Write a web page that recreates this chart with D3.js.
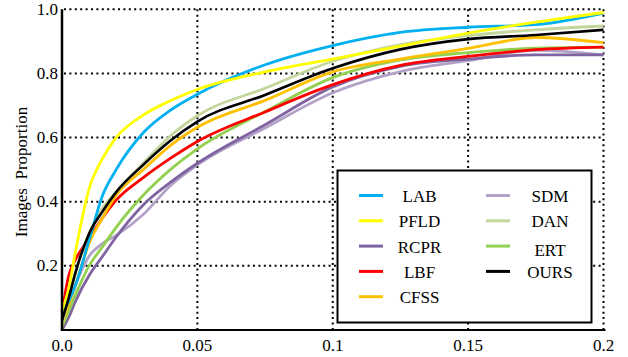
<!DOCTYPE html>
<html>
<head>
<meta charset="utf-8">
<script src="https://cdn.jsdelivr.net/npm/d3@7"></script>
</head>
<body style="margin:0">
<svg id="chart" width="628" height="357"></svg>
<script>
// normalized error thresholds (x) shared by every curve
const errs = [0, 0.0025, 0.005, 0.01, 0.015, 0.02, 0.03, 0.04, 0.05, 0.075, 0.1, 0.125, 0.15, 0.175, 0.2];

const lab  = [0.055, 0.09, 0.14, 0.28, 0.42, 0.50, 0.615, 0.685, 0.735, 0.827, 0.887, 0.928, 0.944, 0.952, 0.988];
const pfld = [0.06, 0.13, 0.245, 0.44, 0.535, 0.60, 0.67, 0.715, 0.75, 0.805, 0.845, 0.885, 0.926, 0.96, 0.99];
const rcpr = [0.0, 0.04, 0.09, 0.17, 0.23, 0.29, 0.39, 0.46, 0.52, 0.64, 0.758, 0.822, 0.845, 0.858, 0.858];
const lbf  = [0.055, 0.17, 0.22, 0.285, 0.35, 0.405, 0.475, 0.535, 0.588, 0.68, 0.765, 0.825, 0.853, 0.874, 0.882];
const cfss = [0.02, 0.08, 0.14, 0.27, 0.35, 0.42, 0.50, 0.575, 0.632, 0.716, 0.805, 0.845, 0.878, 0.912, 0.896];
const sdm  = [0.0, 0.08, 0.14, 0.23, 0.27, 0.295, 0.36, 0.45, 0.515, 0.63, 0.74, 0.806, 0.84, 0.872, 0.858];
const dan  = [0.02, 0.10, 0.18, 0.30, 0.38, 0.43, 0.52, 0.605, 0.668, 0.754, 0.838, 0.89, 0.918, 0.936, 0.948];
const ert  = [0.01, 0.06, 0.11, 0.20, 0.26, 0.32, 0.42, 0.50, 0.565, 0.681, 0.787, 0.842, 0.865, 0.879, 0.882];
const ours = [0.03, 0.10, 0.18, 0.30, 0.37, 0.43, 0.515, 0.59, 0.65, 0.733, 0.816, 0.875, 0.907, 0.92, 0.936];

const names  = ['LAB', 'PFLD', 'RCPR', 'LBF', 'CFSS', 'SDM', 'DAN', 'ERT', 'OURS'];
const values = [lab, pfld, rcpr, lbf, cfss, sdm, dan, ert, ours];
const colors = ['#00b0f0', '#ffff00', '#8064a2', '#ff0000', '#ffc000', '#b3a2c7', '#c3d69b', '#92d050', '#000000'];

const xTicks = [0, 0.05, 0.1, 0.15, 0.2];
const xTickLabels = ['0.0', '0.05', '0.1', '0.15', '0.2'];
const yTicks = [0.2, 0.4, 0.6, 0.8, 1.0];
const yTickLabels = ['0.2', '0.4', '0.6', '0.8', '1.0'];

const svg = d3.select('#chart');

const x = d3.scaleLinear().domain([0, 0.2]).range([62, 603.5]);
const y = d3.scaleLinear().domain([0, 1]).range([330, 9.3]);

// dotted grid
const grid = svg.append('g')
  .attr('stroke', '#000')
  .attr('stroke-width', 2)
  .attr('stroke-dasharray', '2,3.4');

grid.selectAll('line.h')
  .data(yTicks)
  .enter()
  .append('line')
  .attr('x1', x(0) + 2)
  .attr('x2', x(0.2))
  .attr('y1', d => y(d))
  .attr('y2', d => y(d));

grid.selectAll('line.v')
  .data(xTicks.slice(1))
  .enter()
  .append('line')
  .attr('x1', d => x(d))
  .attr('x2', d => x(d))
  .attr('y1', y(1))
  .attr('y2', y(0));

// curves, OURS drawn last
const line = d3.line()
  .x((d, i) => x(errs[i]))
  .y(d => y(d))
  .curve(d3.curveMonotoneX);

const order = [5, 2, 7, 3, 4, 6, 0, 1, 8];
svg.append('g')
  .selectAll('path')
  .data(order)
  .enter()
  .append('path')
  .attr('fill', 'none')
  .attr('stroke', i => colors[i])
  .attr('stroke-width', i => i === 8 ? 2.6 : 2.8)
  .attr('d', i => line(values[i]));

// axes
svg.append('line')
  .attr('x1', x(0)).attr('x2', x(0))
  .attr('y1', y(1)).attr('y2', y(0) + 1)
  .attr('stroke', '#000').attr('stroke-width', 2.5);

svg.append('line')
  .attr('x1', x(0)).attr('x2', x(0.2) + 2)
  .attr('y1', y(0)).attr('y2', y(0))
  .attr('stroke', '#000').attr('stroke-width', 2);

// all text lives in one group carrying the serif face
const labels = svg.append('g')
  .attr('font-family', 'Liberation Serif')
  .style('font-family', "'Liberation Serif'");

labels.selectAll('text.xt')
  .data(xTicks)
  .enter()
  .append('text')
  .attr('x', d => x(d))
  .attr('y', 351)
  .attr('text-anchor', 'middle')
  .attr('font-size', 17)
  .style('font-family', "'Liberation Serif'")
  .text((d, i) => xTickLabels[i]);

labels.selectAll('text.yt')
  .data(yTicks)
  .enter()
  .append('text')
  .attr('x', 58)
  .attr('y', d => y(d) + 5.5)
  .attr('text-anchor', 'end')
  .attr('font-size', 17)
  .style('font-family', "'Liberation Serif'")
  .text((d, i) => yTickLabels[i]);

labels.append('text')
  .attr('transform', 'translate(27,172) rotate(-90)')
  .attr('text-anchor', 'middle')
  .attr('font-size', 17)
  .style('font-family', "'Liberation Serif'")
  .style('white-space', 'pre')
  .text('Images  Proportion');

// legend
const legend = svg.append('g');
legend.append('rect')
  .attr('x', 337.5).attr('y', 170.5)
  .attr('width', 254).attr('height', 152)
  .attr('fill', '#fff')
  .attr('stroke', '#000')
  .attr('stroke-width', 2);

const rowY = i => 195.5 + (i % 5) * 25.3;
const item = legend.selectAll('g')
  .data(names)
  .enter()
  .append('g')
  .attr('transform', (d, i) => `translate(${i < 5 ? 359 : 486},${rowY(i < 5 ? i : i - 5)})`);

item.append('line')
  .attr('x1', 0).attr('x2', 24)
  .attr('stroke', (d, i) => colors[i])
  .attr('stroke-width', 3);

item.append('text')
  .attr('x', (d, i) => i < 5 ? 60.5 : 64)
  .attr('y', (d, i) => i === 7 ? 10 : 6.5)
  .attr('text-anchor', 'middle')
  .attr('font-size', 17)
  .style('font-family', "'Liberation Serif'")
  .text(d => d);
</script>
</body>
</html>
